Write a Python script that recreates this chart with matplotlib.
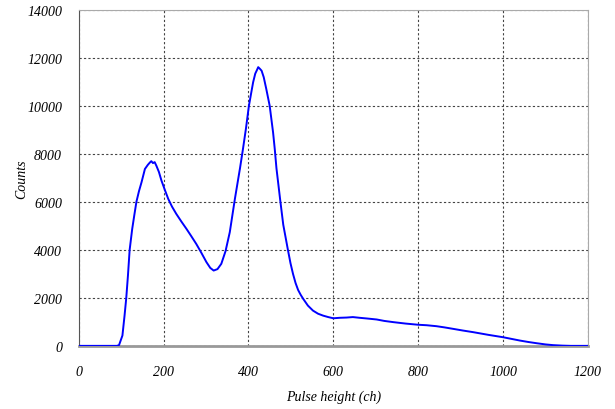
import matplotlib
matplotlib.use("Agg")
import matplotlib.pyplot as plt

# --------- DATOS ---------
canal = [0, 90, 95, 103, 108, 112, 116, 120, 126, 131, 136, 142, 148, 156, 163,
         168, 171, 175, 179, 183, 189, 195, 203, 211, 220, 230, 242, 254, 265,
         277, 289, 301, 310, 318, 327, 336, 346, 356, 368, 380, 387, 394, 401,
         406, 411, 416, 420, 423, 427, 431, 436, 442, 450, 458, 462, 466, 470,
         475, 482, 493, 499, 505, 511, 517, 523, 529, 540, 552, 564, 576, 588,
         600, 615, 631, 646, 662, 680, 702, 720, 741, 770, 800, 820, 843, 862,
         882, 905, 930, 965, 1000, 1020, 1040, 1060, 1079, 1100, 1118, 1140,
         1160, 1200]
cuentas = [0, 0, 30, 430, 1260, 1990, 2930, 4000, 4870, 5450, 6010, 6450, 6820,
           7375, 7550, 7650, 7700, 7620, 7660, 7510, 7250, 6890, 6500, 6125,
           5800, 5500, 5180, 4875, 4580, 4250, 3880, 3490, 3250, 3140, 3200,
           3420, 3950, 4740, 6125, 7400, 8200, 9050, 10000, 10500, 10990, 11350,
           11500, 11620, 11550, 11470, 11200, 10710, 10010, 8900, 8200, 7400,
           6800, 6050, 5050, 4000, 3450, 3000, 2620, 2330, 2130, 1960, 1680,
           1470, 1340, 1260, 1200, 1150, 1170, 1180, 1200, 1170, 1140, 1100,
           1040, 990, 930, 880, 860, 820, 770, 710, 640, 570, 460, 360, 290,
           220, 160, 110, 60, 30, 10, 0, 0]

xticks = [0, 200, 400, 600, 800, 1000, 1200]
yticks = [0, 2000, 4000, 6000, 8000, 10000, 12000, 14000]

fuente = {"family": "Liberation Serif", "style": "italic", "size": 10}

fig = plt.figure(figsize=(6.15, 4.1), dpi=100)
ax = fig.add_axes([0.128, 0.154, 0.828, 0.819])

ax.plot(canal, cuentas, color="#0000FF", linewidth=1.4, zorder=3)

ax.set_xlim(0, 1200)
ax.set_ylim(0, 14000)
ax.set_xticks(xticks)
ax.set_yticks(yticks)
ax.set_xticklabels([str(v) for v in xticks], fontdict=fuente)
ax.set_yticklabels([str(v) for v in yticks], fontdict=fuente)
ax.tick_params(axis="x", length=0, pad=14)
ax.tick_params(axis="y", length=0, pad=12)

# Rejilla punteada
ax.grid(True, color="#444444", linestyle=(0, (2, 2)), linewidth=0.8)
ax.set_axisbelow(True)

# Bordes del grafico
ax.spines["left"].set_color("#555555")
ax.spines["bottom"].set_color("#999999")
ax.spines["bottom"].set_linewidth(2)
ax.spines["top"].set_color("#aaaaaa")
ax.spines["right"].set_color("#aaaaaa")

ax.set_xlabel("Pulse height (ch)", fontdict=fuente, labelpad=8)
ax.set_ylabel("Counts", fontdict=fuente)
ax.yaxis.set_label_coords(-0.100, 0.5)

fig.savefig("out.png", dpi=100)
